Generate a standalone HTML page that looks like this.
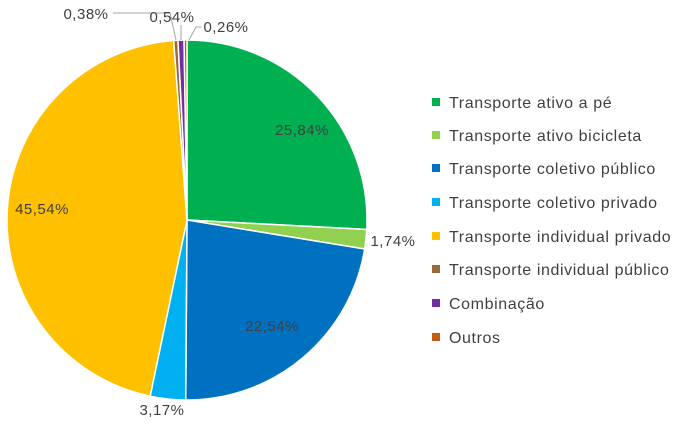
<!DOCTYPE html><html><head><style>
body{margin:0;width:683px;height:428px;background:#fff;overflow:hidden}
text{font-family:"Liberation Sans",sans-serif;fill:#404040}
</style></head><body>
<svg id="s" width="683" height="428" xmlns="http://www.w3.org/2000/svg"></svg>
<script>
var s=document.getElementById('s');
var cx=187,cy=220,r=180;
var d=[[25.84,'#00b050'],[1.74,'#92d050'],[22.54,'#0070c0'],[3.17,'#00b0f0'],[45.54,'#ffc000'],[0.38,'#9c6a3a'],[0.54,'#7030a0'],[0.26,'#c55a11']];
var tot=100.01,a=0,h='';
d.forEach(function(e){var a0=a/tot*2*Math.PI;a+=e[0];var a1=a/tot*2*Math.PI;
var x0=cx+r*Math.sin(a0),y0=cy-r*Math.cos(a0),x1=cx+r*Math.sin(a1),y1=cy-r*Math.cos(a1);
h+='<path d="M'+cx+','+cy+'L'+x0+','+y0+'A'+r+','+r+' 0 '+((a1-a0)>Math.PI?1:0)+' 1 '+x1+','+y1+'Z" fill="'+e[1]+'" stroke="#fff" stroke-width="1.5"/>';});
h+='<polyline points="113,13 170,13 176,40" fill="none" stroke="#a6a6a6"/>';
h+='<polyline points="181,25 181,40" fill="none" stroke="#a6a6a6"/>';
h+='<polyline points="201,27 196,27 189,40" fill="none" stroke="#a6a6a6"/>';
var L=[['25,84%',302,135],['1,74%',393,246],['22,54%',272,331],['3,17%',162,415],['45,54%',42,214],['0,38%',86,19],['0,54%',172,22],['0,26%',226,32]];
L.forEach(function(l){h+='<text x="'+l[1]+'" y="'+l[2]+'" font-size="15" letter-spacing="0.5" text-anchor="middle">'+l[0]+'</text>';});
var names=['Transporte ativo a pé','Transporte ativo bicicleta','Transporte coletivo público','Transporte coletivo privado','Transporte individual privado','Transporte individual público','Combinação','Outros'];
var ys=[102,135,168,202,236,269,303,337];
names.forEach(function(n,i){h+='<rect x="432" y="'+(ys[i]-4)+'" width="8" height="8" fill="'+d[i][1]+'"/><text x="449" y="'+(ys[i]+6)+'" font-size="16" letter-spacing="0.6">'+n+'</text>';});
s.innerHTML=h;
</script>
</body></html>
